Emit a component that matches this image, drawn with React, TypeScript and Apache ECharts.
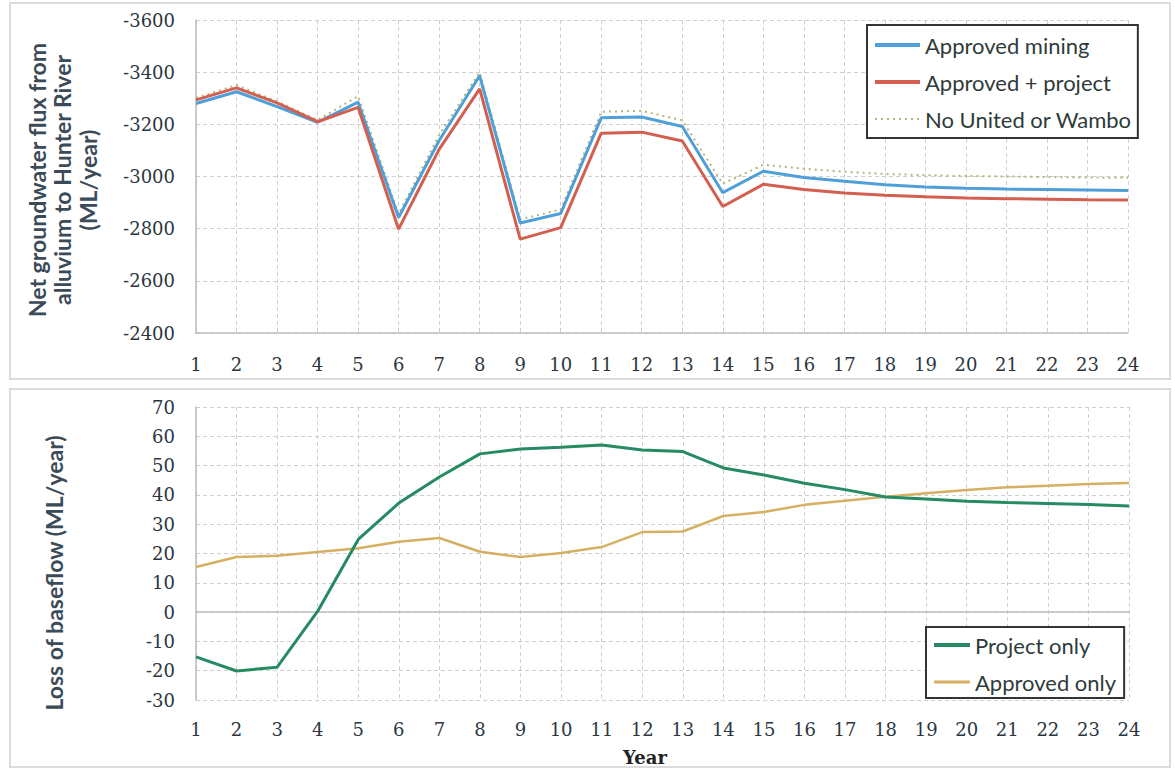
import React, { useEffect, useRef } from "react";
import * as echarts from "echarts";

const years = ["1","2","3","4","5","6","7","8","9","10","11","12","13","14","15","16","17","18","19","20","21","22","23","24"];

const approvedMining = [-3280,-3325,-3268,-3208,-3285,-2843,-3138,-3386,-2822,-2858,-3225,-3228,-3192,-2938,-3020,-2996,-2982,-2968,-2960,-2955,-2952,-2950,-2948,-2946];
const approvedPlusProject = [-3294,-3340,-3282,-3210,-3265,-2798,-3104,-3336,-2760,-2804,-3166,-3170,-3136,-2885,-2970,-2950,-2937,-2928,-2922,-2918,-2915,-2913,-2911,-2910];
const noUnitedOrWambo = [-3302,-3350,-3288,-3216,-3308,-2856,-3160,-3400,-2836,-2873,-3248,-3252,-3215,-2972,-3045,-3030,-3018,-3010,-3005,-3002,-3000,-2998,-2996,-2995];

const projectOnly = [-15.3,-20.1,-18.8,0.3,24.8,37.2,46.1,54.0,55.7,56.3,57.0,55.3,54.8,49.2,46.8,44.0,41.8,39.3,38.6,37.8,37.4,37.1,36.7,36.2];
const approvedOnly = [15.4,18.8,19.2,20.5,21.8,24.0,25.3,20.6,18.8,20.2,22.2,27.3,27.5,32.8,34.2,36.6,38.0,39.4,40.6,41.7,42.6,43.1,43.7,44.1];

const topTicks = { min: -3600, max: -2400, interval: 200 };
const bottomTicks = { min: -30, max: 70, interval: 10 };

const tickFont = "DejaVu Serif";
const titleFont = "Lato";
const tickColor = "#2c3640";
const titleColor = "#3b4b57";
const gridColor = "#cfcfcf";

export default function App() {
  const ref = useRef<HTMLDivElement>(null);
  useEffect(() => {
    if (!ref.current) return;
    const chart = echarts.init(ref.current, undefined, { renderer: "svg" });
    const labelStyle = {
      fontFamily: tickFont,
      fontSize: 18,
      color: tickColor,
      formatter: (v: any) => String(v),
    };
    const xAxisBase = {
      type: "category" as const,
      data: years,
      boundaryGap: false,
      axisLine: { lineStyle: { color: "#bdbdbd", width: 1.5 } },
      axisTick: { show: false },
      splitLine: { show: true, lineStyle: { color: gridColor, type: [4, 3] as any, width: 1 } },
    };
    const yAxisBase = {
      type: "value" as const,
      axisLine: { show: true, lineStyle: { color: "#bdbdbd", width: 1.5 } },
      axisTick: { show: false },
      splitLine: { show: true, lineStyle: { color: gridColor, type: [4, 3] as any, width: 1 } },
    };
    const legendText = { fontFamily: titleFont, fontSize: 22, color: "#2f3b3b" };
    chart.setOption({
      animation: false,
      backgroundColor: "#ffffff",
      textStyle: { fontFamily: tickFont },
      grid: [
        { left: 196, top: 20, width: 932, height: 313 },
        { left: 196, top: 407, width: 933, height: 293 },
      ],
      xAxis: [
        { ...xAxisBase, gridIndex: 0, axisLabel: { ...labelStyle, margin: 22 } },
        { ...xAxisBase, gridIndex: 1, axisLabel: { ...labelStyle, margin: 20 } },
      ],
      yAxis: [
        { ...yAxisBase, gridIndex: 0, inverse: true, ...topTicks, axisLabel: { ...labelStyle, margin: 21 } },
        { ...yAxisBase, gridIndex: 1, ...bottomTicks, axisLabel: { ...labelStyle, margin: 21 } },
      ],
      legend: [
        {
          left: 867,
          top: 25,
          orient: "vertical",
          data: [
            { name: "Approved mining", lineStyle: { width: 4 } },
            { name: "Approved + project", lineStyle: { width: 4 } },
            { name: "No United or Wambo", lineStyle: { width: 2 } },
          ],
          backgroundColor: "#ffffff",
          borderColor: "#333333",
          borderWidth: 2,
          borderRadius: 0,
          padding: [9, 6, 8, 6],
          itemGap: 15,
          itemWidth: 45,
          itemHeight: 4,
          itemStyle: { opacity: 0 },
          textStyle: legendText,
        },
        {
          left: 926,
          top: 627,
          orient: "vertical",
          data: [
            { name: "Project only", lineStyle: { width: 4 } },
            { name: "Approved only", lineStyle: { width: 3 } },
          ],
          backgroundColor: "#ffffff",
          borderColor: "#333333",
          borderWidth: 2,
          borderRadius: 0,
          padding: [7, 8, 5, 6],
          itemGap: 15,
          itemWidth: 36,
          itemHeight: 4,
          itemStyle: { opacity: 0 },
          textStyle: legendText,
        },
      ],
      graphic: [
        { type: "rect", shape: { x: 10, y: 3, width: 1160, height: 376 }, style: { fill: "none", stroke: "#dcdcdc", lineWidth: 2 }, z: -10 },
        { type: "rect", shape: { x: 10, y: 389, width: 1160, height: 378 }, style: { fill: "none", stroke: "#dcdcdc", lineWidth: 2 }, z: -10 },
        {
          type: "text",
          x: 62,
          y: 180,
          rotation: Math.PI / 2,
          style: {
            text: "Net groundwater flux from\nalluvium to Hunter River\n(ML/year)",
            align: "center",
            verticalAlign: "middle",
            fontFamily: titleFont,
            fontWeight: "bold",
            fontSize: 23,
            lineHeight: 25.5,
            fill: titleColor,
          },
        },
        {
          type: "text",
          x: 54,
          y: 573,
          rotation: Math.PI / 2,
          style: {
            text: "Loss of baseflow (ML/year)",
            align: "center",
            verticalAlign: "middle",
            fontFamily: titleFont,
            fontWeight: "bold",
            fontSize: 23,
            fill: titleColor,
          },
        },
        {
          type: "text",
          x: 645,
          y: 757,
          style: {
            text: "Year",
            align: "center",
            verticalAlign: "middle",
            fontFamily: tickFont,
            fontWeight: "bold",
            fontSize: 18,
            fill: "#222222",
          },
        },
      ],
      series: [
        {
          name: "No United or Wambo",
          type: "line",
          xAxisIndex: 0,
          yAxisIndex: 0,
          data: noUnitedOrWambo,
          symbol: "none",
          lineStyle: { color: "#b9b47c", width: 2, type: [2, 4] as any },
          itemStyle: { color: "#b9b47c" },
          z: 1,
        },
        {
          name: "Approved mining",
          type: "line",
          xAxisIndex: 0,
          yAxisIndex: 0,
          data: approvedMining,
          symbol: "none",
          lineStyle: { color: "#4f9fd8", width: 3 },
          itemStyle: { color: "#4f9fd8" },
          z: 2,
        },
        {
          name: "Approved + project",
          type: "line",
          xAxisIndex: 0,
          yAxisIndex: 0,
          data: approvedPlusProject,
          symbol: "none",
          lineStyle: { color: "#d25f4f", width: 3 },
          itemStyle: { color: "#d25f4f" },
          z: 3,
        },
        {
          name: "Project only",
          type: "line",
          xAxisIndex: 1,
          yAxisIndex: 1,
          data: projectOnly,
          symbol: "none",
          lineStyle: { color: "#268a62", width: 3 },
          itemStyle: { color: "#268a62" },
          z: 3,
        },
        {
          name: "Approved only",
          type: "line",
          xAxisIndex: 1,
          yAxisIndex: 1,
          data: approvedOnly,
          symbol: "none",
          lineStyle: { color: "#d6b062", width: 2.5 },
          itemStyle: { color: "#d6b062" },
          z: 2,
        },
      ],
    });
    return () => chart.dispose();
  }, []);
  return (
    <div
      ref={ref}
      style={{ position: "fixed", left: 0, top: 0, width: 1175, height: 768, background: "#fff" }}
    />
  );
}
